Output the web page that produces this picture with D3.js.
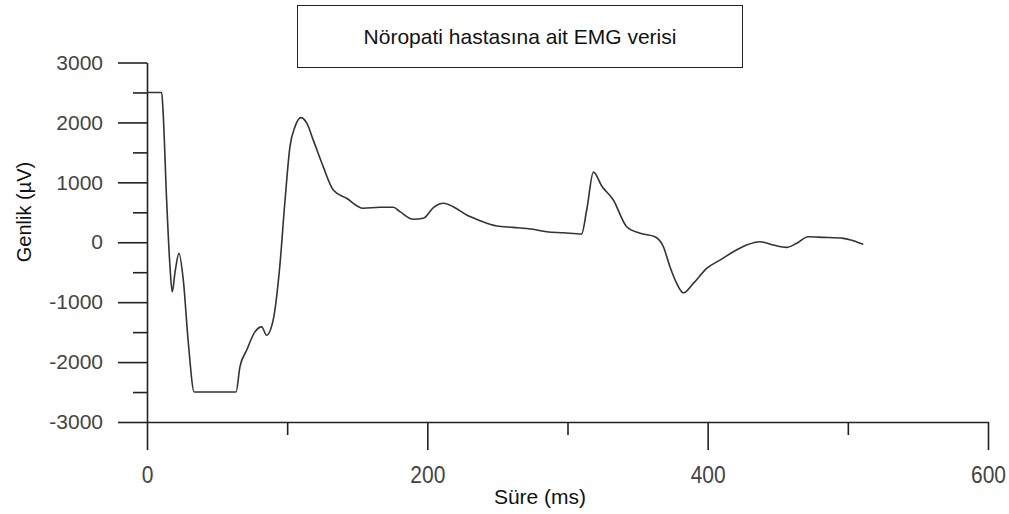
<!DOCTYPE html>
<html>
<head>
<meta charset="utf-8">
<script src="https://cdn.jsdelivr.net/npm/d3@7"></script>
<style>
  body { margin: 0; background: #fff; }
  svg { display: block; font-family: "Liberation Sans", Arial, sans-serif; }
</style>
</head>
<body>
<div id="chart"></div>
<script>
const width = 1009;
const height = 514;

// EMG trace: time (ms) and amplitude (µV)
const times = [0, 10.5, 11.4, 14.1, 16.4, 18, 20, 22.8, 25.9, 29.5, 33.7, 63.5, 66.3, 71.1, 77, 81.8, 85.3,
  90, 94.7, 98.3, 102, 105.6, 109.8, 114, 118.7, 125.7, 132.9, 142.4, 154.2, 166.3, 175.7, 180.5, 190,
  197.1, 204.5, 211.6, 218.5, 228.1, 237.6, 249.5, 261.3, 275.5, 285.1, 297, 310, 313.7, 318.5, 324.4,
  332.7, 342.2, 351.8, 362.4, 368.4, 373.1, 377.9, 382.6, 389.8, 399.3, 408.8, 418.3, 427.8, 437.3,
  446.8, 456.3, 463.5, 471.7, 482.4, 496.7, 503.9, 511];
const amps = [2500, 2500, 2210, 650, -410, -828, -500, -185, -631, -1684, -2500, -2500, -2081, -1802, -1496, -1412, -1551,
  -1300, -410, 650, 1596, 1930, 2080, 1987, 1700, 1262, 872, 734, 567, 583, 583, 510, 383,
  400, 583, 650, 593, 455, 360, 271, 249, 216, 176, 159, 137, 538, 1170, 940,
  705, 259, 149, 92, -75, -410, -687, -844, -687, -436, -298, -159, -47, 8,
  -47, -85, -18, 92, 82, 65, 25, -35];

const xMajor = [0, 200, 400, 600];
const xMinor = [100, 300, 500];
const yMajor = [-3000, -2000, -1000, 0, 1000, 2000, 3000];
const yMinor = [-2500, -1500, -500, 500, 1500, 2500];

const title = "Nöropati hastasına ait EMG verisi";
const xTitle = "Süre (ms)";
const yTitle = "Genlik (µV)";

const data = times.map((t, i) => ({t, v: amps[i]}));

const x = d3.scaleLinear().domain([0, 600]).range([147, 988]);
const y = d3.scaleLinear().domain([-3000, 3000]).range([422, 62.5]);

const svg = d3.select("#chart").append("svg")
  .attr("width", width)
  .attr("height", height);

const axisColor = "#222";
const labelColor = "#444";

// x axis
const gx = svg.append("g").attr("transform", `translate(0,${y(-3000)})`);
gx.call(d3.axisBottom(x).tickValues(xMajor).tickSize(28).tickSizeOuter(0));
gx.append("g").call(d3.axisBottom(x).tickValues(xMinor).tickSize(13).tickFormat(""))
  .call(g => g.select(".domain").remove());
gx.selectAll("text")
  .attr("font-size", 21)
  .attr("font-family", null)
  .attr("fill", labelColor)
  .attr("transform", "scale(1,1.15)")
  .attr("y", 38);

// y axis, plain hyphen for negatives as in the source
const gy = svg.append("g").attr("transform", `translate(${x(0)},0)`);
gy.call(d3.axisLeft(y).tickValues(yMajor).tickSize(29).tickSizeOuter(0).tickPadding(15)
  .tickFormat(d => String(d)));
gy.append("g").call(d3.axisLeft(y).tickValues(yMinor).tickSize(14).tickFormat(""))
  .call(g => g.select(".domain").remove());
gy.selectAll("text")
  .attr("font-size", 21)
  .attr("font-family", null)
  .attr("fill", labelColor);

svg.selectAll(".domain, .tick line")
  .attr("stroke", axisColor)
  .attr("stroke-width", 1.6);

// trace
svg.append("path")
  .datum(data)
  .attr("fill", "none")
  .attr("stroke", "#333")
  .attr("stroke-width", 1.6)
  .attr("stroke-linejoin", "round")
  .attr("d", d3.line().x(d => x(d.t)).y(d => y(d.v)).curve(d3.curveMonotoneX));

// title box
svg.append("rect")
  .attr("x", 297.5).attr("y", 5.5)
  .attr("width", 445).attr("height", 62)
  .attr("fill", "#fff")
  .attr("stroke", "#222")
  .attr("stroke-width", 1);
svg.append("text")
  .attr("x", 520).attr("y", 44)
  .attr("text-anchor", "middle")
  .attr("font-size", 21)
  .attr("fill", "#111")
  .text(title);

// axis titles
svg.append("text")
  .attr("x", 540).attr("y", 504)
  .attr("text-anchor", "middle")
  .attr("font-size", 21)
  .attr("fill", "#111")
  .text(xTitle);
svg.append("text")
  .attr("transform", "translate(31,212) rotate(-90)")
  .attr("text-anchor", "middle")
  .attr("font-size", 20)
  .attr("fill", "#111")
  .text(yTitle);
</script>
</body>
</html>
